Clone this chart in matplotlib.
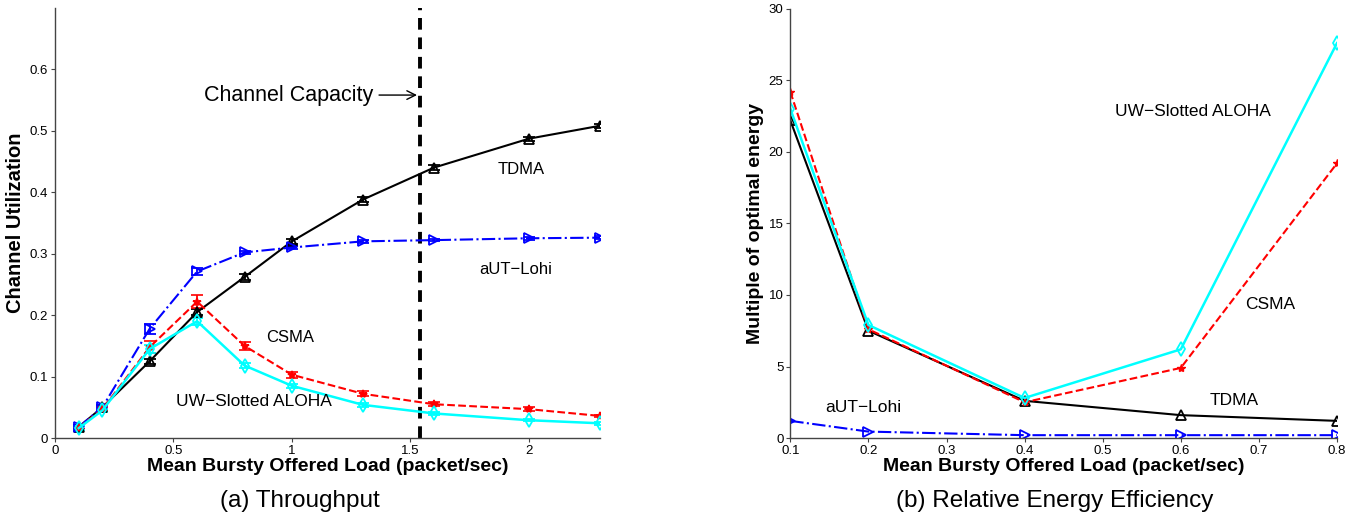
import numpy as np
import matplotlib.pyplot as plt

# Throughput panel
load_a = [0.1, 0.2, 0.4, 0.6, 0.8, 1.0, 1.3, 1.6, 2.0, 2.3]
tdma_a = [0.018, 0.050, 0.125, 0.205, 0.262, 0.320, 0.388, 0.440, 0.487, 0.508]
tdma_err = [0.003, 0.003, 0.004, 0.005, 0.005, 0.004, 0.004, 0.004, 0.003, 0.003]
lohi_a = [0.018, 0.050, 0.178, 0.271, 0.302, 0.310, 0.320, 0.322, 0.325, 0.326]
lohi_err = [0.003, 0.003, 0.008, 0.005, 0.003, 0.003, 0.002, 0.002, 0.002, 0.002]
csma_a = [0.017, 0.047, 0.148, 0.222, 0.150, 0.103, 0.072, 0.055, 0.047, 0.036]
csma_err = [0.003, 0.003, 0.010, 0.010, 0.007, 0.005, 0.004, 0.003, 0.003, 0.002]
aloha_a = [0.016, 0.045, 0.145, 0.190, 0.118, 0.085, 0.054, 0.040, 0.029, 0.024]
aloha_err = [0.003, 0.003, 0.006, 0.006, 0.004, 0.003, 0.003, 0.002, 0.002, 0.002]
capacity = 1.54

# Energy panel
load_b = [0.1, 0.2, 0.4, 0.6, 0.8]
tdma_b = [22.2, 7.5, 2.6, 1.6, 1.2]
csma_b = [24.2, 7.6, 2.5, 4.9, 19.2]
aloha_b = [23.0, 7.9, 2.8, 6.2, 27.6]
lohi_b = [1.2, 0.45, 0.2, 0.2, 0.2]

plt.rcParams['font.family'] = ['Liberation Sans', 'DejaVu Sans']

fig = plt.figure(figsize=(13.51, 5.19), dpi=100)
ax1 = fig.add_axes([0.0407, 0.156, 0.4033, 0.829])
ax2 = fig.add_axes([0.585, 0.156, 0.4046, 0.827])

mk = dict(markersize=7, markerfacecolor='none', markeredgewidth=1.3)
ek = dict(capsize=4, elinewidth=1.3, capthick=1.3)

ax1.errorbar(load_a, tdma_a, yerr=tdma_err, color='black', ls='-', marker='^', lw=1.5, **mk, **ek)
ax1.errorbar(load_a, lohi_a, yerr=lohi_err, color='blue', ls='-.', marker='>', lw=1.5, **mk, **ek)
ax1.errorbar(load_a, csma_a, yerr=csma_err, color='red', ls='--', marker='*', lw=1.5,
             markersize=6, markeredgewidth=1.2, **ek)
ax1.errorbar(load_a, aloha_a, yerr=aloha_err, color='cyan', ls='-', marker='d', lw=1.8, **mk, **ek)
ax1.axvline(capacity, color='black', ls='--', lw=2.8, dashes=(3, 2))

ax1.annotate('Channel Capacity', xy=(capacity, 0.558), xytext=(0.63, 0.558),
             fontsize=15.5, va='center', ha='left',
             arrowprops=dict(arrowstyle='->', color='black', lw=1))
ax1.text(1.87, 0.437, 'TDMA', fontsize=12, va='center')
ax1.text(1.79, 0.274, 'aUT\u2212Lohi', fontsize=12, va='center')
ax1.text(0.89, 0.163, 'CSMA', fontsize=12, va='center')
ax1.text(0.51, 0.059, 'UW\u2212Slotted ALOHA', fontsize=12.5, va='center')

ax1.set_xlim(0, 2.3)
ax1.set_ylim(0, 0.7)
ax1.set_xticks([0, 0.5, 1, 1.5, 2])
ax1.set_xticklabels(['0', '0.5', '1', '1.5', '2'])
ax1.set_yticks([0, 0.1, 0.2, 0.3, 0.4, 0.5, 0.6])
ax1.set_yticklabels(['0', '0.1', '0.2', '0.3', '0.4', '0.5', '0.6'])
ax1.set_ylabel('Channel Utilization', fontsize=14.5, fontweight='bold', labelpad=3)
ax1.set_xlabel('Mean Bursty Offered Load (packet/sec)', fontsize=14, fontweight='bold', labelpad=1)

ax2.plot(load_b, tdma_b, color='black', ls='-', marker='^', lw=1.5, **mk)
ax2.plot(load_b, csma_b, color='red', ls='--', marker='*', lw=1.5, markersize=6)
ax2.plot(load_b, aloha_b, color='cyan', ls='-', marker='d', lw=1.8, **mk)
ax2.plot(load_b, lohi_b, color='blue', ls='-.', marker='>', lw=1.5, **mk)

ax2.text(0.516, 22.8, 'UW\u2212Slotted ALOHA', fontsize=12.5, va='center')
ax2.text(0.682, 9.3, 'CSMA', fontsize=12.5, va='center')
ax2.text(0.637, 2.65, 'TDMA', fontsize=12.5, va='center')
ax2.text(0.145, 2.1, 'aUT\u2212Lohi', fontsize=12.5, va='center')

ax2.set_xlim(0.1, 0.8)
ax2.set_ylim(0, 30)
ax2.set_xticks([0.1, 0.2, 0.3, 0.4, 0.5, 0.6, 0.7, 0.8])
ax2.set_xticklabels(['0.1', '0.2', '0.3', '0.4', '0.5', '0.6', '0.7', '0.8'])
ax2.set_yticks([0, 5, 10, 15, 20, 25, 30])
ax2.set_ylabel('Multiple of optimal energy', fontsize=14, fontweight='bold', labelpad=3)
ax2.set_xlabel('Mean Bursty Offered Load (packet/sec)', fontsize=14, fontweight='bold', labelpad=1)

for ax in (ax1, ax2):
    ax.spines['top'].set_visible(False)
    ax.spines['right'].set_visible(False)
    for s in ('left', 'bottom'):
        ax.spines[s].set_color('#444444')
        ax.spines[s].set_linewidth(1.0)
    ax.tick_params(direction='out', length=3, labelsize=9.5, pad=2, color='#444444')

fig.text(0.222, 0.035, '(a) Throughput', fontsize=17.5, ha='center', va='center')
fig.text(0.781, 0.035, '(b) Relative Energy Efficiency', fontsize=17.5, ha='center', va='center')

fig.savefig('out.png', dpi=100)
